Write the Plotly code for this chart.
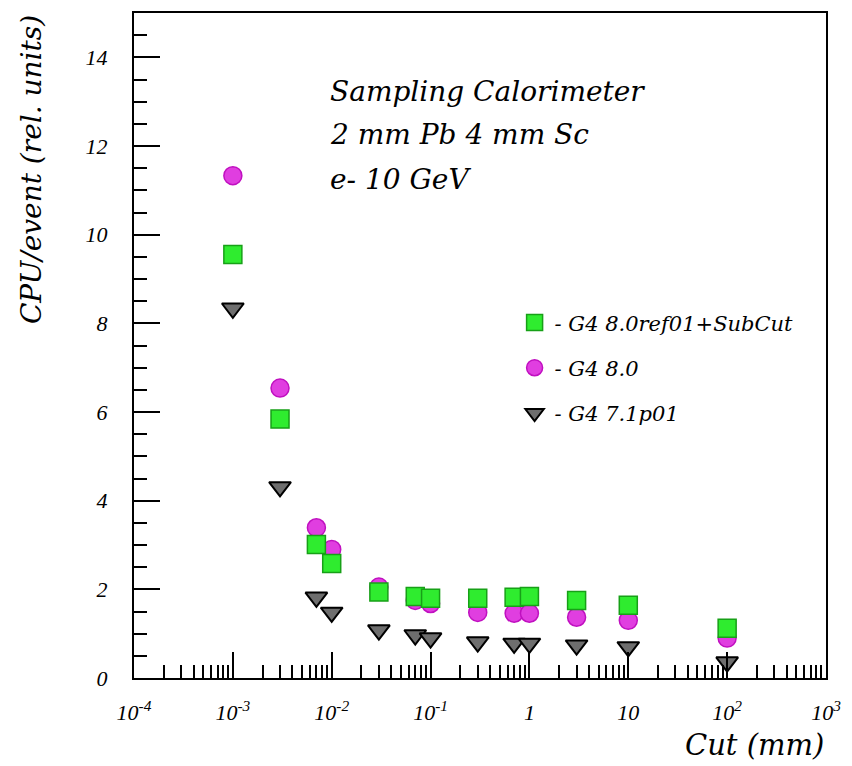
import plotly.graph_objects as go

cut_mm = [0.001, 0.003, 0.007, 0.01, 0.03, 0.07, 0.1, 0.3, 0.7, 1, 3, 10, 100]
cpu_subcut = [9.55, 5.84, 3.01, 2.58, 1.94, 1.84, 1.80, 1.80, 1.82, 1.84, 1.75, 1.64, 1.12]
cpu_g480 = [11.33, 6.54, 3.39, 2.90, 2.05, 1.75, 1.68, 1.48, 1.46, 1.46, 1.37, 1.30, 0.90]
cpu_g471 = [8.34, 4.31, 1.82, 1.48, 1.08, 0.97, 0.90, 0.81, 0.78, 0.78, 0.74, 0.70, 0.36]

series_names = ["- G4 8.0ref01+SubCut", "- G4 8.0", "- G4 7.1p01"]
x_tickvals = [1e-4, 1e-3, 1e-2, 1e-1, 1, 10, 100, 1000]
x_ticktext = ["10<sup>-4</sup>", "10<sup>-3</sup>", "10<sup>-2</sup>", "10<sup>-1</sup>",
              "1", "10", "10<sup>2</sup>", "10<sup>3</sup>"]
y_tickvals = [0, 2, 4, 6, 8, 10, 12, 14]
info_lines = ["Sampling Calorimeter", "2 mm Pb 4 mm Sc", "e- 10 GeV"]

SERIF = "Liberation Serif"
WIDE_SERIF = "DejaVu Serif"

fig = go.Figure()

# magenta circles (G4 8.0)
fig.add_trace(go.Scatter(
    x=cut_mm, y=cpu_g480, mode="markers", name=series_names[1],
    legendgroup="b", legendrank=2,
    marker=dict(symbol="circle", size=18, color="#e03ee0",
                line=dict(color="#c010c0", width=1.5)),
))
# green squares (SubCut)
fig.add_trace(go.Scatter(
    x=cut_mm, y=cpu_subcut, mode="markers", name=series_names[0],
    legendgroup="a", legendrank=1,
    marker=dict(symbol="square", size=18, color="#2fec2f",
                line=dict(color="#17a017", width=1.5)),
))
# black/grey triangles (G4 7.1p01)
fig.add_trace(go.Scatter(
    x=cut_mm, y=cpu_g471, mode="markers", name=series_names[2],
    legendgroup="c", legendrank=3,
    marker=dict(symbol="triangle-down", size=19, color="#6e6e6e",
                line=dict(color="#000000", width=2)),
))

axis_font = dict(family=SERIF, size=22, color="black", style="italic")

fig.update_layout(
    width=852, height=766,
    margin=dict(l=134, r=26, t=11, b=88),
    paper_bgcolor="white", plot_bgcolor="white",
    showlegend=True,
    legend=dict(
        x=0.55, y=0.565, xanchor="left", yanchor="top",
        font=dict(family=WIDE_SERIF, size=21, color="black", style="italic"),
        tracegroupgap=15, traceorder="grouped",
        bgcolor="rgba(0,0,0,0)",
    ),
    xaxis=dict(
        type="log", range=[-4, 3],
        showgrid=False, zeroline=False,
        showline=True, linecolor="black", linewidth=2, mirror=True,
        ticks="inside", ticklen=26, tickwidth=1.5, tickcolor="black",
        tickvals=x_tickvals, ticktext=x_ticktext,
        tickfont=axis_font, ticklabelstandoff=14,
        minor=dict(ticks="inside", ticklen=13, tickwidth=1.5, tickcolor="black",
                   dtick="D1", showgrid=False),
    ),
    yaxis=dict(
        range=[0, 15],
        showgrid=False, zeroline=False,
        showline=True, linecolor="black", linewidth=2, mirror=True,
        ticks="inside", ticklen=26, tickwidth=1.5, tickcolor="black",
        tickvals=y_tickvals,
        tickfont=axis_font, ticklabelstandoff=20,
        minor=dict(ticks="inside", ticklen=13, tickwidth=1.5, tickcolor="black",
                   dtick=0.5, showgrid=False),
    ),
)

fig.add_annotation(text="Cut (mm)", xref="paper", yref="paper", x=1.0, y=-0.10,
                   xanchor="right", yanchor="middle", showarrow=False,
                   font=dict(family=WIDE_SERIF, size=29, color="black", style="italic"))
fig.add_annotation(text="CPU/event (rel. units)", xref="paper", yref="paper",
                   x=-0.148, y=1.0, xanchor="center", yanchor="top", textangle=-90,
                   showarrow=False,
                   font=dict(family=WIDE_SERIF, size=28, color="black", style="italic"))

info_y = [0.8816, 0.817, 0.75]
for line, yy in zip(info_lines, info_y):
    fig.add_annotation(text=line, xref="paper", yref="paper", x=0.281, y=yy,
                       xanchor="left", yanchor="middle", showarrow=False,
                       font=dict(family=WIDE_SERIF, size=28, color="black", style="italic"))

fig.write_html("out.html")
